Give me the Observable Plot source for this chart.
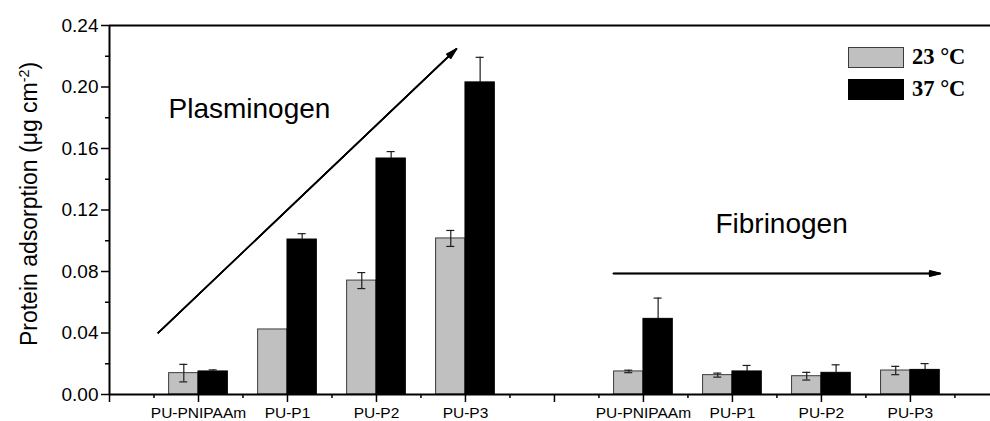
<!DOCTYPE html>
<html>
<head>
<meta charset="utf-8">
<script src="https://cdn.jsdelivr.net/npm/d3@7"></script>
<script src="https://cdn.jsdelivr.net/npm/@observablehq/plot@0.6"></script>
<style>
  html, body { margin: 0; padding: 0; background: #fff; }
  #wrap { position: relative; width: 990px; height: 421px; font-family: "Liberation Sans", Arial, sans-serif; }
  #wrap svg { position: absolute; left: 0; top: 0; }
  .legend { position: absolute; left: 848px; top: 46px; font-family: "Liberation Serif", "Times New Roman", serif; font-weight: bold; font-size: 22.5px; color: #000; }
  .legend .row { display: flex; align-items: center; height: 22px; margin-bottom: 10px; }
  .legend .sw { width: 56px; height: 21px; margin-right: 8px; box-sizing: border-box; }
</style>
</head>
<body>
<div id="wrap"></div>
<script>
// ---- data ----
const categories = ["PU-PNIPAAm", "PU-P1", "PU-P2", "PU-P3"];
const proteins = ["Plasminogen", "Fibrinogen"];
const temps = ["23 °C", "37 °C"];

const plasminogen23 = [0.0139, 0.0423, 0.0741, 0.1015];
const plasminogen23Err = [0.0057, 0.0, 0.0052, 0.0052];
const plasminogen37 = [0.0150, 0.1008, 0.1535, 0.2030];
const plasminogen37Err = [0.0010, 0.0038, 0.0045, 0.0163];

const fibrinogen23 = [0.0150, 0.0126, 0.0119, 0.0156];
const fibrinogen23Err = [0.0008, 0.0013, 0.0025, 0.0027];
const fibrinogen37 = [0.0492, 0.0150, 0.0141, 0.0160];
const fibrinogen37Err = [0.0135, 0.0039, 0.0052, 0.0041];

const yTicks = [0, 0.04, 0.08, 0.12, 0.16, 0.20, 0.24];
const yMinorTicks = [0.02, 0.06, 0.10, 0.14, 0.18, 0.22];
const yLabelMain = "Protein adsorption (μg cm";
const yLabelSup = "-2";
const yLabelEnd = ")";

// annotation arrows and labels (data coordinates)
const arrowX1 = [0.547, 5.663];
const arrowY1 = [0.0401, 0.0787];
const arrowX2 = [3.899, 9.337];
const arrowY2 = [0.2248, 0.0787];
const proteinLabelX = [0.663, 6.809];
const proteinLabelY = [0.1858, 0.1107];

// ---- build tables ----
const values = [[plasminogen23, plasminogen37], [fibrinogen23, fibrinogen37]];
const errors = [[plasminogen23Err, plasminogen37Err], [fibrinogen23Err, fibrinogen37Err]];
const groupSize = categories.length + 1;
const barW = 0.33;
const bars = [];
proteins.forEach((p, gi) => {
  categories.forEach((c, ci) => {
    temps.forEach((t, ti) => {
      const pos = gi * groupSize + ci + 1;
      const v = values[gi][ti][ci];
      const e = errors[gi][ti][ci];
      bars.push({
        protein: p, category: c, temp: t, ti,
        x1: ti === 0 ? pos - barW : pos,
        x2: ti === 0 ? pos : pos + barW,
        xc: ti === 0 ? pos - barW / 2 : pos + barW / 2,
        value: v,
        // lower half of the black bars' error bars is hidden inside the bar
        lo: ti === 0 ? v - e : v,
        hi: v + e, err: e
      });
    });
  });
});
const errBars = bars.filter(d => d.err > 0);
const caps = errBars.flatMap(d => d.ti === 0 ? [{x: d.xc, y: d.lo}, {x: d.xc, y: d.hi}] : [{x: d.xc, y: d.hi}]);
const capHalf = 0.045;

const majorX = d3.range(0, proteins.length * groupSize);
const minorX = majorX.map(i => i + 0.5);
const labelFor = i => {
  const k = i % groupSize;
  return k === 0 ? "" : categories[k - 1];
};
const arrows = arrowX1.map((x, i) => ({x1: x, y1: arrowY1[i], x2: arrowX2[i], y2: arrowY2[i]}));
const protLabels = proteins.map((p, i) => ({text: p, x: proteinLabelX[i], y: proteinLabelY[i]}));
const yLabel = yLabelMain + yLabelSup + yLabelEnd;

const fam = "'Liberation Sans', Arial, sans-serif";

const plot = Plot.plot({
  width: 990,
  height: 421,
  marginLeft: 109,
  marginRight: 0,
  marginTop: 25,
  marginBottom: 27,
  style: {fontFamily: fam, color: "#000", background: "transparent", overflow: "visible"},
  x: {domain: [0, 9.9], axis: null},
  y: {domain: [0, 0.24], axis: null},
  marks: [
    Plot.axisY({ticks: yTicks, tickSize: 8, tickPadding: 3, tickFormat: d3.format(".2f"), fontSize: 19, strokeWidth: 1.5, label: null}),
    Plot.axisY({ticks: yMinorTicks, tickSize: 4, tickFormat: () => "", strokeWidth: 1.5, label: null}),
    Plot.axisX({ticks: majorX, tickSize: 8, tickPadding: 4, tickFormat: labelFor, fontSize: 15.5, strokeWidth: 1.5, label: null}),
    Plot.axisX({ticks: minorX, tickSize: 4, tickFormat: () => "", strokeWidth: 1.5, label: null}),
    Plot.rectY(bars, {x1: "x1", x2: "x2", y: "value", fill: d => d.ti === 0 ? "#c0c0c0" : "#000", stroke: d => d.ti === 0 ? "#3c3c3c" : "#000", strokeWidth: 1}),
    Plot.ruleX(errBars, {x: "xc", y1: "lo", y2: "hi", stroke: "#1e1e1e", strokeWidth: 1.2}),
    Plot.ruleY(caps, {y: "y", x1: d => d.x - capHalf, x2: d => d.x + capHalf, stroke: "#1e1e1e", strokeWidth: 1.2}),
    Plot.ruleY([0.24], {strokeWidth: 2}),
    Plot.ruleY([0], {strokeWidth: 2}),
    Plot.ruleX([0], {strokeWidth: 2}),
    Plot.arrow(arrows, {x1: "x1", y1: "y1", x2: "x2", y2: "y2", stroke: "#000", strokeWidth: 1.5, headLength: 11, headAngle: 30}),
    Plot.arrow(arrows, {x1: "x1", y1: "y1", x2: "x2", y2: "y2", stroke: "#000", strokeWidth: 1.5, headLength: 11, headAngle: 20}),
    Plot.arrow(arrows, {x1: "x1", y1: "y1", x2: "x2", y2: "y2", stroke: "#000", strokeWidth: 1.5, headLength: 11, headAngle: 10}),
    Plot.text(protLabels, {x: "x", y: "y", text: "text", textAnchor: "start", lineAnchor: "middle", fontSize: 28, fill: "#000"}),
    Plot.text([yLabel], {text: d => d, frameAnchor: "left", rotate: -90, dx: -80, dy: -6, lineAnchor: "middle", textAnchor: "middle", fontSize: 23, fill: "#000"})
  ]
});

const wrap = document.getElementById("wrap");
wrap.appendChild(plot);

// superscript in the y label
const ns = "http://www.w3.org/2000/svg";
plot.querySelectorAll("text").forEach(t => {
  if (t.textContent === yLabel) {
    t.textContent = yLabelMain;
    const sup = document.createElementNS(ns, "tspan");
    sup.setAttribute("dy", "-0.55em");
    sup.setAttribute("font-size", "0.62em");
    sup.textContent = yLabelSup;
    const close = document.createElementNS(ns, "tspan");
    close.setAttribute("dy", "0.34em");
    close.textContent = yLabelEnd;
    t.appendChild(sup);
    t.appendChild(close);
  }
});

// legend
const legend = document.createElement("div");
legend.className = "legend";
temps.forEach((t, i) => {
  const row = document.createElement("div");
  row.className = "row";
  const sw = document.createElement("div");
  sw.className = "sw";
  sw.style.background = i === 0 ? "#c0c0c0" : "#000";
  sw.style.border = "1px solid " + (i === 0 ? "#3c3c3c" : "#000");
  const lab = document.createElement("span");
  lab.textContent = t;
  row.appendChild(sw);
  row.appendChild(lab);
  legend.appendChild(row);
});
wrap.appendChild(legend);
</script>
</body>
</html>
